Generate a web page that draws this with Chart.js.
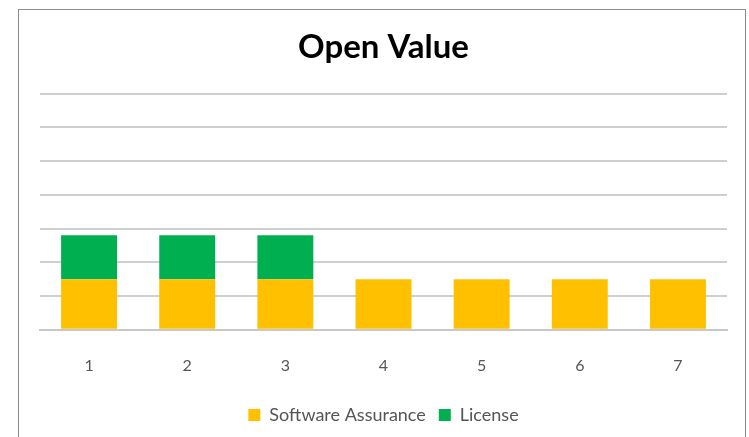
<!DOCTYPE html>
<html>
<head>
<meta charset="utf-8">
<script src="https://cdn.jsdelivr.net/npm/chart.js@4"></script>
<style>
  html, body { margin: 0; padding: 0; background: #fff; }
  #wrap { position: relative; width: 749px; height: 437px; }
  #frame { position: absolute; left: 18px; top: 9px; width: 726px; height: 440px;
           border: 1px solid #8c8c8c; border-bottom: none; pointer-events: none; }
</style>
</head>
<body>
<div id="wrap">
  <canvas id="c" width="749" height="437"></canvas>
  <div id="frame"></div>
</div>
<script>
var labels = ['1', '2', '3', '4', '5', '6', '7'];
var software_assurance = [1.5, 1.5, 1.5, 1.5, 1.5, 1.5, 1.5];
var license = [1.3, 1.3, 1.3, 0, 0, 0, 0];

var ctx = document.getElementById('c').getContext('2d');
var chart = new Chart(ctx, {
    type: 'bar',
    data: {
        labels: labels,
        datasets: [
            {label: 'Software Assurance', data: software_assurance, backgroundColor: '#FFC000',
             categoryPercentage: 1, barPercentage: 0.57},
            {label: 'License', data: license, backgroundColor: '#00B050',
             categoryPercentage: 1, barPercentage: 0.57}
        ]
    },
    options: {
        responsive: false,
        animation: false,
        layout: {padding: {left: 40, right: 22, top: 0, bottom: 3}},
        plugins: {
            title: {
                display: true,
                text: 'Open Value',
                color: '#000',
                font: {family: 'Lato', size: 33, weight: 'bold'},
                padding: {top: 28, bottom: 26}
            },
            legend: {
                position: 'bottom',
                labels: {
                    color: '#555',
                    font: {family: 'Lato', size: 18},
                    boxWidth: 12, boxHeight: 12,
                    padding: 13
                }
            },
            tooltip: {enabled: false}
        },
        scales: {
            x: {
                stacked: true,
                grid: {display: false},
                border: {color: '#c8c8c8', width: 2},
                ticks: {color: '#555', font: {family: 'Lato', size: 16}, padding: 18}
            },
            y: {
                stacked: true,
                min: 0, max: 7,
                ticks: {display: false, stepSize: 1},
                grid: {color: '#cfcfcf', lineWidth: 2, drawTicks: false},
                border: {display: false}
            }
        }
    }
});
</script>
</body>
</html>
